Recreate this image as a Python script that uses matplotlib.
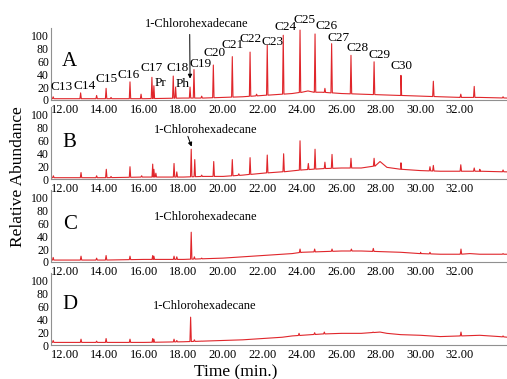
import numpy as np
import matplotlib
matplotlib.use("Agg")
import matplotlib.pyplot as plt

plt.rcParams['font.family'] = ['Liberation Serif', 'DejaVu Serif']

# baseline knots (time, abundance) and peak tops for each sample
base_a_t = [11.3, 12, 14, 16, 18, 19, 20, 21, 22, 23, 23.5, 24, 24.3, 24.6, 25, 26, 27, 28, 29, 30, 31, 32, 33, 34.4]
base_a_y = [2, 2, 2, 2, 3, 3, 4, 5, 7, 9, 10, 12, 14, 12, 12, 10, 9, 8, 7, 6, 5, 4, 4, 3]
peak_a_t = [11.40, 12.79, 13.60, 14.08, 14.33, 15.29, 15.85, 16.40, 16.50, 17.48, 17.60, 18.33, 18.53, 18.92,
            19.51, 20.47, 21.37, 21.70, 22.24, 23.05, 23.90, 24.66, 25.16, 25.50, 26.48, 27.65, 29.01, 30.65,
            32.04, 32.72, 34.18]
peak_a_y = [5, 11, 7, 18, 4, 28, 9, 35, 22, 37, 20, 20, 47, 6,
            54, 67, 74, 9, 85, 100, 108, 102, 18, 87, 69, 59, 38, 29,
            9, 21, 5]

base_b_t = [11.3, 12, 14, 16, 18, 19, 20, 21, 22, 23, 24, 25, 26, 27, 27.7, 27.95, 28.3, 29, 30, 31, 32, 33, 34.4]
base_b_y = [2, 2, 2, 3, 3, 4, 4, 6, 9, 11, 14, 16, 17, 17, 20, 27, 18, 15, 13, 12, 12, 12, 11]
peak_b_t = [11.41, 12.81, 13.60, 14.09, 14.33, 15.29, 15.88, 16.44, 16.50, 16.60, 17.52, 17.66, 18.39, 18.57,
            18.92, 19.53, 20.47, 20.80, 21.37, 22.24, 23.07, 23.90, 24.32, 24.66, 25.16, 25.52, 26.48, 27.65,
            29.01, 30.48, 30.65, 32.04, 32.72, 33.00, 34.18]
peak_b_y = [5, 10, 5, 15, 4, 19, 5, 23, 15, 9, 24, 11, 46, 30,
            6, 27, 30, 8, 33, 37, 39, 59, 24, 46, 26, 38, 32, 32,
            25, 19, 21, 22, 17, 15, 14]

base_c_t = [11.3, 12, 14, 16, 18, 19, 20, 21, 22, 23, 23.5, 24, 25, 26, 27, 28, 29, 30, 31, 32, 32.5, 33, 34.4]
base_c_y = [3, 3, 3, 4, 4, 5, 6, 8, 10, 12, 13, 15, 16, 17, 17, 16, 15, 13, 12, 12, 13, 12, 12]
peak_c_t = [11.40, 12.81, 13.60, 14.08, 15.29, 16.44, 16.50, 17.52, 17.66, 18.39, 18.55, 18.92,
            23.90, 24.64, 25.52, 26.50, 27.61, 30.00, 30.48, 32.05, 34.18]
peak_c_y = [7, 9, 6, 10, 9, 10, 9, 9, 8, 46, 8, 6,
            20, 20, 20, 20, 21, 15, 15, 20, 13]

base_d_t = [11.3, 12, 14, 16, 18, 19, 20, 21, 22, 23, 23.5, 24, 25, 26, 27, 27.95, 28.3, 29, 30, 31, 32, 33, 34, 34.4]
base_d_y = [4, 4, 4, 4, 5, 6, 7, 8, 10, 12, 14, 15, 17, 18, 18, 20, 18, 16, 15, 13, 14, 15, 13, 12]
peak_d_t = [11.40, 12.81, 13.60, 14.08, 15.29, 16.44, 16.50, 17.52, 17.66, 18.36, 18.55, 18.92,
            23.85, 24.64, 25.13, 27.60, 32.05, 34.18]
peak_d_y = [7, 9, 6, 10, 9, 10, 9, 9, 7, 43, 8, 6,
            18, 19, 20, 20, 20, 14]

alkanes = ['C13', 'C14', 'C15', 'C16', 'C17', 'Pr', 'C18', 'Ph', 'C19', 'C20', 'C21', 'C22',
           'C23', 'C24', 'C25', 'C26', 'C27', 'C28', 'C29', 'C30']
panel_names = ['A', 'B', 'C', 'D']
xticks = [12, 14, 16, 18, 20, 22, 24, 26, 28, 30, 32]
yticks = [0, 20, 40, 60, 80, 100]


def trace(bt, by, pt, py, w=0.035):
    # baseline polyline with a narrow spike at each peak
    pts = list(zip(bt, by))
    for t, h in zip(pt, py):
        b = np.interp(t, bt, by)
        pts += [(t - w, b), (t, h), (t + w, b)]
    pts.sort()
    arr = np.array(pts)
    return arr[:, 0], arr[:, 1]


fig = plt.figure(figsize=(5.07, 3.79), dpi=100)
W, H = 507, 379
bottoms = [100, 179, 262, 345]
series = [(base_a_t, base_a_y, peak_a_t, peak_a_y),
          (base_b_t, base_b_y, peak_b_t, peak_b_y),
          (base_c_t, base_c_y, peak_c_t, peak_c_y),
          (base_d_t, base_d_y, peak_d_t, peak_d_y)]
axes = []
for i, (bt, by, pt, py) in enumerate(series):
    ax = fig.add_axes([51 / W, 1 - bottoms[i] / H, 456 / W, 72.5 / H])
    x, y = trace(bt, by, pt, py)
    ax.plot(x, y, color='#e0262b', lw=0.8)
    ax.set_xlim(11.29, 34.38)
    ax.set_ylim(0, 112)
    ax.set_xticks(xticks)
    ax.set_xticklabels(['%.2f' % v for v in xticks], fontsize=9)
    ax.set_yticks(yticks)
    ax.set_yticklabels([str(v) for v in yticks], fontsize=8.5)
    ax.tick_params(length=0, pad=1.5)
    ax.tick_params(axis='x', pad=3)
    for s in ['top', 'right']:
        ax.spines[s].set_visible(False)
    for s in ['left', 'bottom']:
        ax.spines[s].set_color('#909090')
        ax.spines[s].set_linewidth(0.8)
    ax.patch.set_visible(False)
    axes.append(ax)

letter_y = [59, 56, 58, 62]
for ax, name, ly in zip(axes, panel_names, letter_y):
    ax.text(12.23, ly, name, fontsize=15, ha='center', va='center')

# alkane labels in panel A
lab_x = [11.83, 12.97, 14.08, 15.24, 16.40, 16.83, 17.70, 17.96, 18.88, 19.55, 20.50, 21.40,
         22.51, 23.18, 24.15, 25.22, 25.84, 26.81, 27.90, 29.03]
lab_y = [19.5, 21.5, 33, 38, 49, 27, 49, 25, 55, 72, 85, 95,
         90, 113, 123, 115, 96, 80, 69, 53]
for name, lx, ly in zip(alkanes, lab_x, lab_y):
    axes[0].text(lx, ly, name, fontsize=9.5, ha='center', va='center', clip_on=False)

axes[0].annotate('1-Chlorohexadecane', xy=(18.33, 33), xytext=(18.68, 117),
                 fontsize=9, ha='center', va='center', annotation_clip=False,
                 arrowprops=dict(arrowstyle='-|>', color='black', lw=0.7,
                                 mutation_scale=6, relpos=(0.43, 0.0), shrinkA=1, shrinkB=0))
axes[1].text(19.12, 75, '1-Chlorohexadecane', fontsize=9, ha='center', va='center')
axes[1].annotate('', xy=(18.41, 50), xytext=(18.22, 66),
                 arrowprops=dict(arrowstyle='-|>', color='black', lw=0.7,
                                 mutation_scale=6, shrinkA=0, shrinkB=0))
axes[2].text(19.12, 70, '1-Chlorohexadecane', fontsize=9, ha='center', va='center')
axes[3].text(19.07, 61, '1-Chlorohexadecane', fontsize=9, ha='center', va='center')

fig.text(236 / W, 1 - 372 / H, 'Time (min.)', fontsize=12.5, ha='center', va='center')
fig.text(18 / W, 1 - 177 / H, 'Relative Abundance', fontsize=12.5, ha='center', va='center', rotation=90)

fig.savefig('out.png', dpi=100)
